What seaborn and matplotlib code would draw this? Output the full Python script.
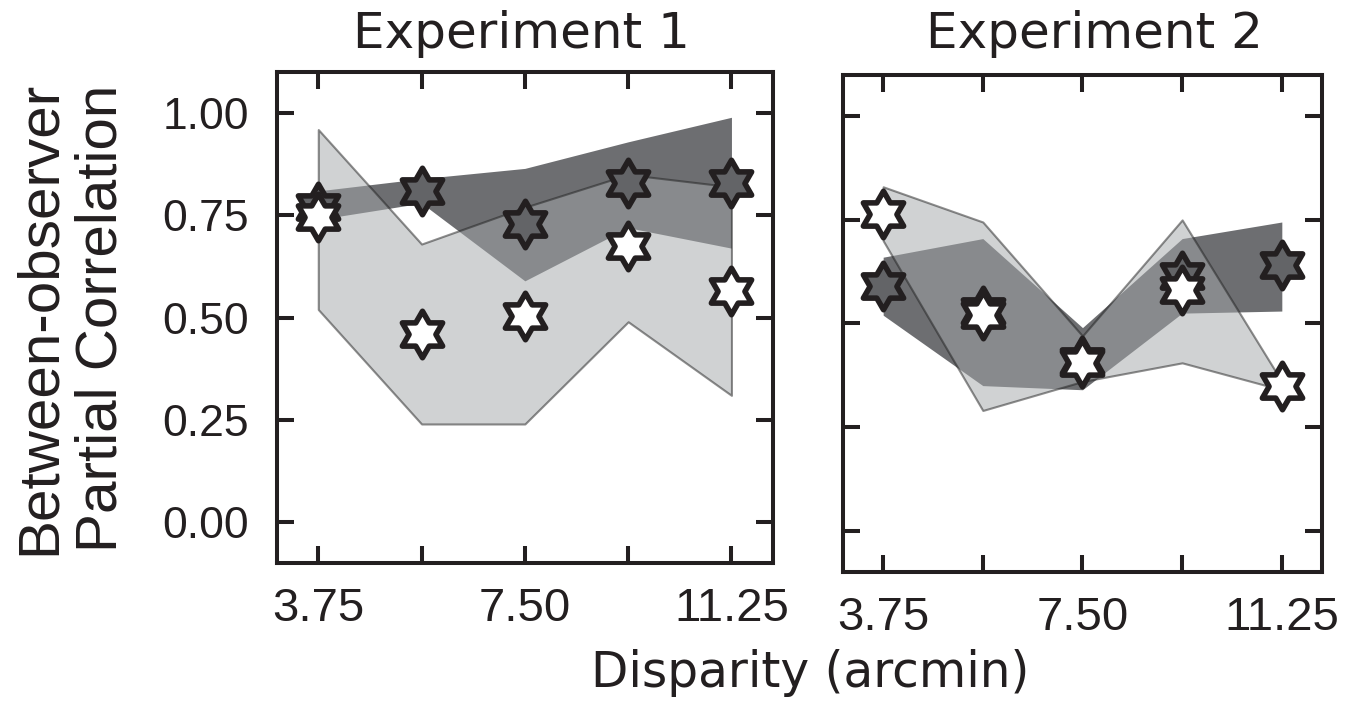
import numpy as np
import matplotlib
matplotlib.use("Agg")
import matplotlib.pyplot as plt
from matplotlib.path import Path
import seaborn as sns

# values
disparity = [3.75, 5.625, 7.5, 9.375, 11.25]
xtick_labels = ["3.75", "", "7.50", "", "11.25"]
yticks = [0.0, 0.25, 0.5, 0.75, 1.0]

exp1_dark = [0.77, 0.81, 0.73, 0.83, 0.83]
exp1_dark_lo = [0.74, 0.78, 0.59, 0.72, 0.67]
exp1_dark_hi = [0.81, 0.84, 0.865, 0.93, 0.99]
exp1_light = [0.745, 0.46, 0.505, 0.675, 0.565]
exp1_light_lo = [0.52, 0.24, 0.24, 0.49, 0.31]
exp1_light_hi = [0.96, 0.68, 0.77, 0.85, 0.82]

exp2_dark = [0.59, 0.53, 0.41, 0.615, 0.64]
exp2_dark_lo = [0.52, 0.35, 0.34, 0.525, 0.53]
exp2_dark_hi = [0.66, 0.705, 0.49, 0.705, 0.745]
exp2_light = [0.765, 0.52, 0.405, 0.58, 0.35]
exp2_light_lo = [0.70, 0.29, 0.36, 0.405, 0.34]
exp2_light_hi = [0.83, 0.745, 0.47, 0.75, 0.36]

sns.set_theme(style="ticks")
plt.rcParams["font.family"] = ["Liberation Sans", "DejaVu Sans"]

ink = "#231f20"
dark_band = "#6d6e71"
light_band = "#a3a7a9"
dark_star = "#636467"

# six pointed star marker
ang = np.pi / 2 + np.arange(12) * np.pi / 6
rad = np.where(np.arange(12) % 2 == 0, 1.0, 1 / np.sqrt(3))
verts = np.column_stack([rad * np.cos(ang), rad * np.sin(ang)])
hexagram = Path(np.vstack([verts, verts[:1]]), closed=True)

fig = plt.figure(figsize=(13.51, 7.02), dpi=100)
ax1 = fig.add_axes([0.205, 0.198, 0.367, 0.699])
ax2 = fig.add_axes([0.6242, 0.1852, 0.3541, 0.708])

panels = [
    (ax1, exp1_dark, exp1_dark_lo, exp1_dark_hi, exp1_light, exp1_light_lo, exp1_light_hi),
    (ax2, exp2_dark, exp2_dark_lo, exp2_dark_hi, exp2_light, exp2_light_lo, exp2_light_hi),
]

for ax, dm, dlo, dhi, lm, llo, lhi in panels:
    ax.fill_between(disparity, dlo, dhi, color=dark_band, linewidth=0, zorder=1)
    ax.fill_between(disparity, llo, lhi, facecolor=light_band, edgecolor="#1e1e1e",
                    alpha=0.5, linewidth=1.5, zorder=2)
    sns.scatterplot(x=disparity, y=dm, ax=ax, marker=hexagram, s=1120, color=dark_star,
                    edgecolor=ink, linewidth=4.0, zorder=4, clip_on=False, legend=False)
    sns.scatterplot(x=disparity, y=lm, ax=ax, marker=hexagram, s=1120, color="white",
                    edgecolor=ink, linewidth=4.0, zorder=5, clip_on=False, legend=False)

    ax.set_xlim(3, 12)
    ax.set_ylim(-0.1, 1.1)
    ax.set_xticks(disparity)
    ax.set_xticklabels(xtick_labels, fontsize=34, color=ink)
    ax.set_yticks(yticks)
    ax.tick_params(direction="in", top=True, right=True, length=12, width=2.9,
                   color=ink)
    ax.tick_params(axis="x", pad=17)
    ax.tick_params(axis="y", pad=20)
    for sp in ax.spines.values():
        sp.set_visible(True)
        sp.set_linewidth(2.9)
        sp.set_color(ink)
    ax.set_xlabel("")
    ax.set_ylabel("")

ax1.set_yticklabels([f"{v:.2f}" for v in yticks], fontsize=32, color=ink)
ax2.set_yticklabels([])

fig.text(0.3856, 0.9323, "Experiment 1", ha="center", va="baseline",
         fontsize=36, family="DejaVu Sans", color=ink)
fig.text(0.8098, 0.9323, "Experiment 2", ha="center", va="baseline",
         fontsize=36, family="DejaVu Sans", color=ink)
fig.text(0.600, 0.0209, "Disparity (arcmin)", ha="center", va="baseline",
         fontsize=35, family="DejaVu Sans", color=ink)
fig.text(0.052, 0.547, "Between-observer\nPartial Correlation", rotation=90,
         ha="center", va="center", fontsize=42, linespacing=1.19, color=ink)

fig.savefig("out.png", dpi=100)
